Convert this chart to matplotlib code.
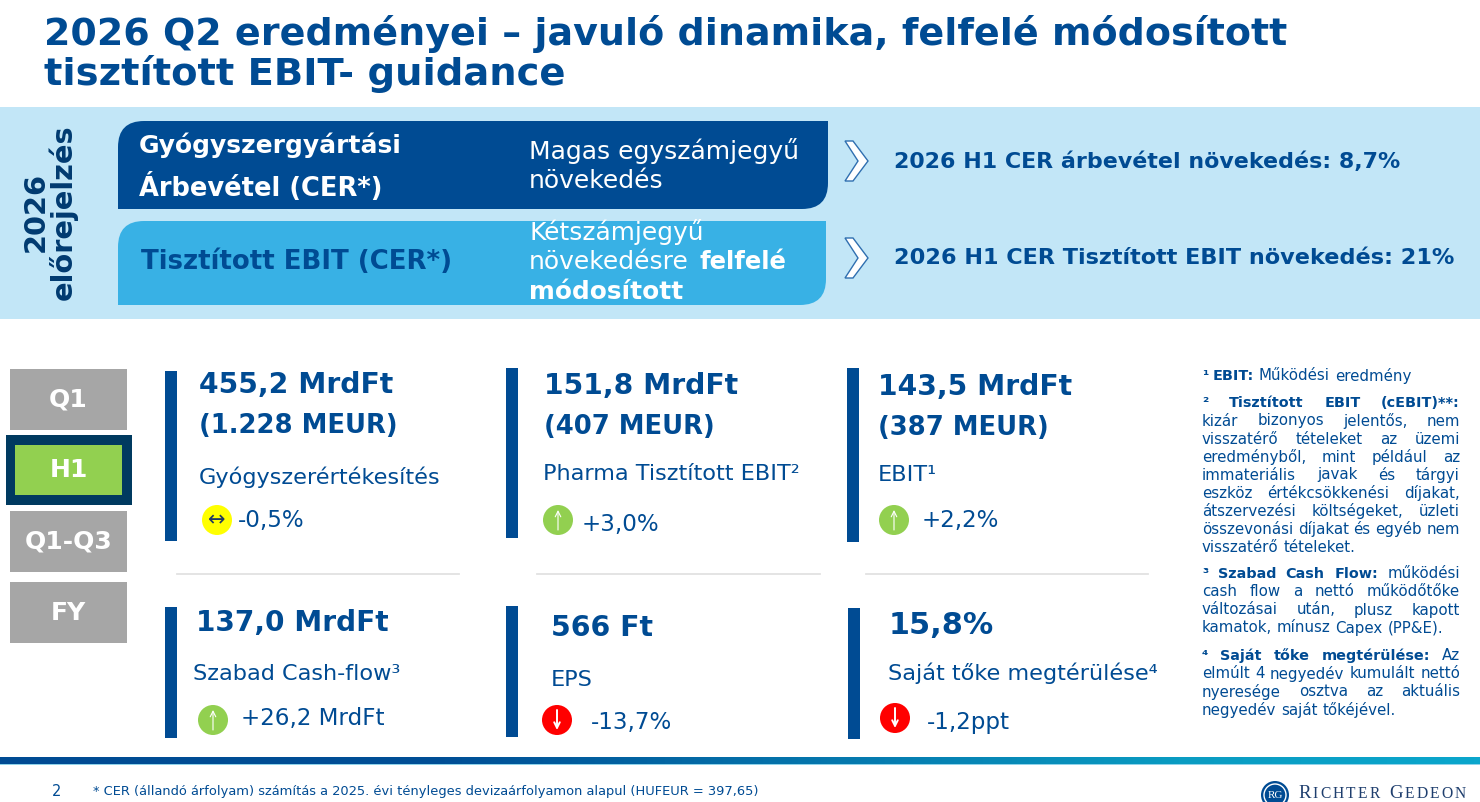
import numpy as np
import matplotlib.pyplot as plt
from matplotlib.patches import Rectangle, Circle, PathPatch, Polygon
from matplotlib.path import Path
from matplotlib.colors import LinearSegmentedColormap

BLUE = "#004b93"
LIGHT = "#38b1e5"
BAND = "#c2e6f7"
GREY = "#a6a6a6"
GREEN = "#92d050"

title_lines = ["2026 Q2 eredményei – javuló dinamika, felfelé módosított",
               "tisztított EBIT- guidance"]
tabs = ["Q1", "H1", "Q1-Q3", "FY"]
kpi_values = ["455,2 MrdFt\n(1.228 MEUR)", "151,8 MrdFt\n(407 MEUR)", "143,5 MrdFt\n(387 MEUR)",
              "137,0 MrdFt", "566 Ft", "15,8%"]
kpi_names = ["Gyógyszerértékesítés", "Pharma Tisztított EBIT²", "EBIT¹",
             "Szabad Cash-flow³", "EPS", "Saját tőke megtérülése⁴"]
kpi_changes = ["-0,5%", "+3,0%", "+2,2%", "+26,2 MrdFt", "-13,7%", "-1,2ppt"]
kpi_trend = ["flat", "up", "up", "up", "down", "down"]

# footnotes: lines, bold words in first line, y of first line
notes = [
    (["¹ EBIT: Működési eredmény"], 2, 376),
    (["² Tisztított EBIT (cEBIT)**:", "kizár bizonyos jelentős, nem", "visszatérő tételeket az üzemi",
      "eredményből, mint például az", "immateriális javak és tárgyi", "eszköz értékcsökkenési díjakat,",
      "átszervezési költségeket, üzleti", "összevonási díjakat és egyéb nem",
      "visszatérő tételeket."], 4, 403),
    (["³ Szabad Cash Flow: működési", "cash flow a nettó működőtőke", "változásai után, plusz kapott",
      "kamatok, mínusz Capex (PP&E)."], 4, 574),
    (["⁴ Saját tőke megtérülése: Az", "elmúlt 4 negyedév kumulált nettó", "nyeresége osztva az aktuális",
      "negyedév saját tőkéjével."], 4, 656),
]

fig = plt.figure(figsize=(14.8, 8.02), dpi=100)
ax = fig.add_axes([0, 0, 1, 1])
ax.set_xlim(0, 1480)
ax.set_ylim(802, 0)
ax.axis("off")
rend = fig.canvas.get_renderer()


def box(x0, y0, x1, y1, color, z=1):
    ax.add_patch(Rectangle((x0, y0), x1 - x0, y1 - y0, fc=color, ec="none", zorder=z))


def corner_box(x0, y0, x1, y1, r, color):
    # rounded top-left and bottom-right corners only
    verts = [(x0, y1), (x0, y0 + r), (x0, y0), (x0 + r, y0), (x1, y0), (x1, y1 - r), (x1, y1),
             (x1 - r, y1), (x0, y1)]
    codes = [Path.MOVETO, Path.LINETO, Path.CURVE3, Path.CURVE3, Path.LINETO, Path.LINETO,
             Path.CURVE3, Path.CURVE3, Path.CLOSEPOLY]
    ax.add_patch(PathPatch(Path(verts, codes), fc=color, ec="none", zorder=2))


def txt(x, y, s, size, color=BLUE, bold=False, **kw):
    kw.setdefault("va", "center")
    return ax.text(x, y, s, fontsize=size, color=color, fontweight="bold" if bold else "normal",
                   zorder=5, **kw)


def width(s, size, bold=False):
    t = ax.text(0, 0, s, fontsize=size, fontweight="bold" if bold else "normal")
    w = t.get_window_extent(rend).width
    t.remove()
    return w


def note_line(line, y, bold_n, justify):
    # footnotes are justified, so lay the words out one by one
    x0, x1 = 1202, 1460
    words = line.split(" ")
    sizes = [10.4 if i < bold_n else 10.8 for i in range(len(words))]
    widths = [width(w, sizes[i], i < bold_n) for i, w in enumerate(words)]
    gap = width("a a", 10.8) - 2 * width("a", 10.8)
    if justify and len(words) > 1:
        gap = (x1 - x0 - sum(widths)) / (len(words) - 1)
    x = x0
    for i, w in enumerate(words):
        txt(x, y, w, sizes[i], bold=i < bold_n)
        x += widths[i] + gap


def thin_arrow(ix, iy, direction, lw):
    ax.annotate("", xy=(ix, iy + direction * 10), xytext=(ix, iy - direction * 10), zorder=5,
                arrowprops=dict(arrowstyle="->", color="white", lw=lw, shrinkA=0, shrinkB=0))


# title
txt(44, 34, title_lines[0], 27.35, bold=True)
txt(44, 74, title_lines[1], 27.7, bold=True)

# forecast band
box(0, 107, 1480, 319, BAND)
txt(50, 212, "2026\nelőrejelzés", 20.8, bold=True, color="#003a70", rotation=90, ha="center",
    multialignment="center", linespacing=0.95)
corner_box(118, 121, 828, 209, 26, BLUE)
corner_box(118, 221, 826, 305, 26, LIGHT)
txt(139, 145, "Gyógyszergyártási", 18, color="white", bold=True)
txt(139, 187, "Árbevétel (CER*)", 18.55, color="white", bold=True)
txt(141, 262, "Tisztított EBIT (CER*)", 18.7, bold=True)
txt(529, 151, "Magas egyszámjegyű", 18, color="white")
txt(529, 181, "növekedés", 18, color="white")
txt(529, 232, "Kétszámjegyű", 17.9, color="white")
txt(529, 262, "növekedésre", 18, color="white")
txt(699, 262, "felfelé", 17.5, color="white", bold=True)
txt(529, 292, "módosított", 17.8, color="white", bold=True)
for yc in (161, 258):
    ax.add_patch(Polygon([(845, yc - 20), (853, yc - 20), (868, yc), (853, yc + 20), (845, yc + 20), (858, yc)],
                         closed=True, fc="white", ec="#2f6fb0", lw=1, zorder=3))
txt(894, 162, "2026 H1 CER árbevétel növekedés: 8,7%", 15.95, bold=True)
txt(894, 258, "2026 H1 CER Tisztított EBIT növekedés: 21%", 16.1, bold=True)

# period tabs
box(6, 435, 132, 505, "#003a60")
for label, (y0, y1) in zip(tabs, [(369, 430), (445, 495), (511, 572), (582, 643)]):
    if label == "H1":
        box(15, y0, 122, y1, GREEN, z=2)
    else:
        box(10, y0, 127, y1, GREY, z=2)
    txt(68.5, (y0 + y1) / 2, label, 18, color="white", bold=True, ha="center")

# KPI blocks
bars = [(165, 371, 541), (506, 368, 538), (847, 368, 542), (165, 607, 738), (506, 606, 737), (848, 608, 739)]
value_pos = [(199, 385, 426), (544, 386, 427), (878, 387, 428), (196, 623, None), (551, 628, None), (889, 626, None)]
value_size = [20.3, 20.3, 20.3, 20.2, 20.4, 21.8]
name_pos = [(199, 477), (543, 474), (878, 475), (193, 674), (551, 680), (888, 673)]
icon_pos = [(217, 520), (558, 520), (894, 520), (213, 720), (557, 720), (895, 718)]
change_x = [238, 582, 922, 241, 591, 927]
change_y = [521, 525, 521, 719, 723, 722]
icon_col = {"flat": "#ffff00", "up": GREEN, "down": "#ff0000"}

for i in range(6):
    x, y0, y1 = bars[i]
    box(x, y0, x + 12, y1, BLUE)
    vx, vy1, vy2 = value_pos[i]
    parts = kpi_values[i].split("\n")
    txt(vx, vy1, parts[0], value_size[i], bold=True)
    if vy2:
        txt(vx, vy2, parts[1], 18.6, bold=True)
    txt(name_pos[i][0], name_pos[i][1], kpi_names[i], 16.1)
    ix, iy = icon_pos[i]
    trend = kpi_trend[i]
    ax.add_patch(Circle((ix, iy), 15, fc=icon_col[trend], ec="none", zorder=3))
    if trend == "up":
        thin_arrow(ix, iy, -1, 0.8)
    elif trend == "down":
        thin_arrow(ix, iy, 1, 1.4)
    else:
        txt(ix, iy, "↔", 15, color="#1f3864", ha="center", fontfamily="DejaVu Sans")
    txt(change_x[i], change_y[i], kpi_changes[i], 16.6)

for x0, x1 in [(177, 459), (537, 820), (866, 1148)]:
    ax.plot([x0, x1], [574, 574], color="#e2e2e2", lw=1.3, zorder=1)

# footnotes
for lines, bold_n, y in notes:
    for j, line in enumerate(lines):
        last = j == len(lines) - 1
        note_line(line, y + j * 18, bold_n if j == 0 else 0, not last)

# bottom gradient bar
cmap = LinearSegmentedColormap.from_list("bar", [(0, BLUE), (0.3, "#004f96"), (0.8, "#0a9cc2"), (1, "#0ba6cc")])
ax.imshow(np.linspace(0, 1, 256).reshape(1, -1), extent=(0, 1480, 764, 757), cmap=cmap,
          aspect="auto", zorder=2)
box(0, 764, 1480, 765, "#8fd3ea", z=2)
ax.set_xlim(0, 1480)
ax.set_ylim(802, 0)

txt(52, 792, "2", 10.5)
txt(93, 792, "* CER (állandó árfolyam) számítás a 2025. évi tényleges devizaárfolyamon alapul (HUFEUR = 397,65)", 9.4)

# logo
ax.add_patch(Circle((1275, 795), 14, fc=BLUE, ec="none", zorder=3))
ax.add_patch(Circle((1275, 795), 11, fc="none", ec="white", lw=1, zorder=4))
txt(1275, 795, "RG", 8, color="white", ha="center", fontfamily="Liberation Serif")
xpos = 1298
for j, ch in enumerate("RICHTER GEDEON"):
    if ch == " ":
        xpos += 7
        continue
    big = j in (0, 8)
    t = ax.text(xpos, 798, ch, fontsize=13.5 if big else 11.2, color="#1f3f6e",
                fontfamily="Liberation Serif", va="baseline", zorder=5)
    xpos += t.get_window_extent(rend).width + 2.2

fig.savefig("out.png", dpi=100)
